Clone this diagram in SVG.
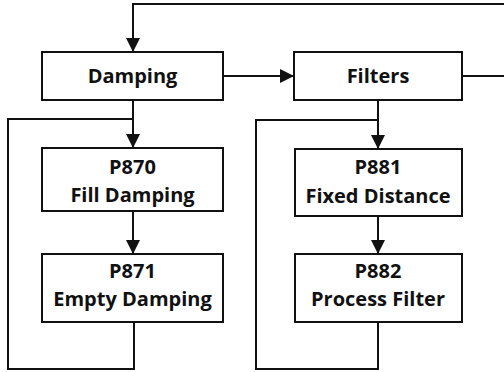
<svg xmlns="http://www.w3.org/2000/svg" width="504" height="372" viewBox="0 0 504 372">
<style>
.box{fill:#fff;stroke:#111;stroke-width:2}
.t{font-family:"Open Sans","Noto Sans","Liberation Sans",sans-serif;font-weight:bold;font-size:20px;fill:#111;text-anchor:middle}
.c{fill:none;stroke:#111;stroke-width:2}
</style>
<defs>
<marker id="ah" markerUnits="userSpaceOnUse" markerWidth="14" markerHeight="14" refX="14" refY="7" orient="auto">
<path d="M0,0 L14,7 L0,14 z" fill="#111"/>
</marker>
</defs>
<g id="connectors">
<path class="c" d="M462,76 H510 V4 H133 V52" marker-end="url(#ah)"/>
<path class="c" d="M223,76 H294" marker-end="url(#ah)"/>
<path class="c" d="M133,100 V148" marker-end="url(#ah)"/>
<path class="c" d="M133,211 V254" marker-end="url(#ah)"/>
<path class="c" d="M134,322 V369 H8 V119 H133"/>
<path class="c" d="M378,100 V149" marker-end="url(#ah)"/>
<path class="c" d="M378,216 V254" marker-end="url(#ah)"/>
<path class="c" d="M378,322 V369 H256 V120 H378"/>
</g>
<g id="damping">
<rect class="box" x="42" y="52" width="181" height="48"/>
<text class="t" x="132.5" y="83">Damping</text>
</g>
<g id="filters">
<rect class="box" x="294" y="52" width="168" height="48"/>
<text class="t" x="378" y="83">Filters</text>
</g>
<g id="p870">
<rect class="box" x="42" y="148" width="181" height="63"/>
<text class="t" x="132.5" y="174">P870</text>
<text class="t" x="132.5" y="202">Fill Damping</text>
</g>
<g id="p871">
<rect class="box" x="42" y="254" width="181" height="68"/>
<text class="t" x="132.5" y="278">P871</text>
<text class="t" x="132.5" y="306">Empty Damping</text>
</g>
<g id="p881">
<rect class="box" x="295" y="149" width="167" height="67"/>
<text class="t" x="378" y="174">P881</text>
<text class="t" x="378" y="203">Fixed Distance</text>
</g>
<g id="p882">
<rect class="box" x="295" y="254" width="167" height="68"/>
<text class="t" x="378" y="278">P882</text>
<text class="t" x="378" y="306">Process Filter</text>
</g>
</svg>
